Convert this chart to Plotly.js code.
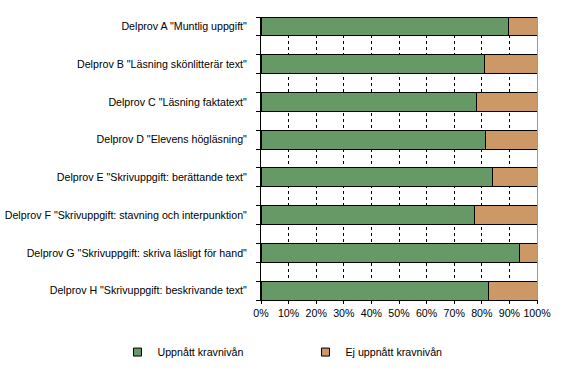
<!DOCTYPE html>
<html>
<head>
<meta charset="utf-8">
<script src="https://cdn.plot.ly/plotly-3.0.1.min.js"></script>
<style>html,body{margin:0;padding:0;background:#fff}#chart{width:579px;height:385px}</style>
</head>
<body>
<div id="chart"></div>
<script>
const categories = [
  'Delprov A "Muntlig uppgift"',
  'Delprov B "Läsning skönlitterär text"',
  'Delprov C "Läsning faktatext"',
  'Delprov D "Elevens högläsning"',
  'Delprov E "Skrivuppgift: berättande text"',
  'Delprov F "Skrivuppgift: stavning och interpunktion"',
  'Delprov G "Skrivuppgift: skriva läsligt för hand"',
  'Delprov H "Skrivuppgift: beskrivande text"'
];
const achieved = [89.5, 81, 78, 81.5, 83.7, 77.5, 93.7, 82.6];
const notAchieved = achieved.map(v => +(100 - v).toFixed(1));
const seriesNames = ['Uppnått kravnivån', 'Ej uppnått kravnivån'];
const seriesColors = ['#669966', '#CC9966'];
const xTickVals = [0,10,20,30,40,50,60,70,80,90,100];
const xTickText = ['0%','10%','20%','30%','40%','50%','60%','70%','80%','90%','100%'];

// Each category sits in every second slot, with blank slots between
const slots = categories.map((c, i) => i * 2);
const nSlots = categories.length * 2 - 1;
const bounds = [];
for (let i = 0; i <= nSlots; i++) bounds.push(i - 0.5);

const font = {family: 'Liberation Sans, Arial, sans-serif', size: 10.67, color: '#000'};

const traces = [
  {type: 'bar', orientation: 'h', name: seriesNames[0], x: achieved, y: slots, width: 1,
   marker: {color: seriesColors[0], line: {color: '#000', width: 1}}, hoverinfo: 'x', showlegend: false},
  {type: 'bar', orientation: 'h', name: seriesNames[1], x: notAchieved, y: slots, width: 1,
   marker: {color: seriesColors[1], line: {color: '#000', width: 1}}, hoverinfo: 'x', showlegend: false},
  // legend entries with small square symbols
  {type: 'scatter', mode: 'markers', name: seriesNames[0], x: [null], y: [null],
   marker: {symbol: 'square', size: 8, color: seriesColors[0], line: {color: '#000', width: 1}}},
  {type: 'scatter', mode: 'markers', name: seriesNames[1], x: [null], y: [null],
   marker: {symbol: 'square', size: 8, color: seriesColors[1], line: {color: '#000', width: 1}}},
  // invisible helper traces to activate overlay axes
  {type: 'scatter', x: [0], y: [0], yaxis: 'y2', mode: 'none', showlegend: false, hoverinfo: 'skip'},
  {type: 'scatter', x: [0], y: [0], xaxis: 'x2', yaxis: 'y3', mode: 'none', showlegend: false, hoverinfo: 'skip'}
];

const yr = [nSlots - 0.5, -0.5];
const layout = {
  width: 579, height: 385,
  margin: {l: 261, r: 42, t: 17, b: 85},
  paper_bgcolor: '#fff', plot_bgcolor: '#fff',
  font: font,
  barmode: 'stack',
  bargap: 0,
  showlegend: true,
  xaxis: {
    range: [0, 100], tickvals: xTickVals, ticktext: xTickText,
    showgrid: false, zeroline: false,
    showline: true, linecolor: '#000', linewidth: 1,
    ticks: 'outside', ticklen: 3, tickcolor: '#000', tickfont: font, fixedrange: true
  },
  xaxis2: {
    overlaying: 'x', range: [0, 100], tickvals: xTickVals.slice(1, -1),
    showticklabels: false, ticks: '', showline: false, zeroline: false,
    showgrid: true, gridcolor: '#000', griddash: '3px,3px', gridwidth: 1, layer: 'below traces'
  },
  yaxis: {
    range: yr, tickvals: bounds, ticktext: bounds.map(() => ''),
    showgrid: false, zeroline: false,
    showline: true, linecolor: '#000', linewidth: 1,
    ticks: 'outside', ticklen: 4, tickcolor: '#000'
  },
  yaxis2: {
    overlaying: 'y', range: yr, tickvals: slots, ticktext: categories,
    showgrid: false, zeroline: false, showline: false,
    ticks: 'outside', ticklen: 11, tickcolor: 'rgba(0,0,0,0)', tickfont: font, side: 'left'
  },
  yaxis3: {
    overlaying: 'y', range: yr, side: 'right', anchor: 'x',
    showgrid: false, zeroline: false, showticklabels: false, ticks: '',
    showline: true, linecolor: '#999', linewidth: 1
  },
  legend: {
    orientation: 'h', x: -0.52, xanchor: 'left', y: -0.184, yanchor: 'middle',
    traceorder: 'normal', font: font, entrywidth: 143, entrywidthmode: 'pixels',
    bgcolor: 'rgba(0,0,0,0)'
  }
};

Plotly.newPlot('chart', traces, layout, {displayModeBar: false, staticPlot: true});
</script>
</body>
</html>
